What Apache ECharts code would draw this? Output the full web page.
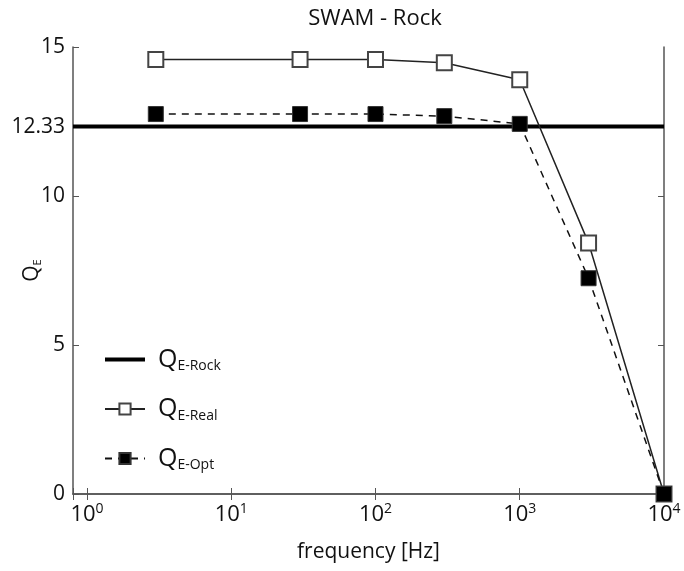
<!DOCTYPE html>
<html><head><meta charset="utf-8">
<script src="https://cdn.jsdelivr.net/npm/echarts@6/dist/echarts.min.js"></script>
<style>html,body{margin:0;padding:0;background:#fff}#c{width:684px;height:571px}</style>
</head><body><div id="c"></div>
<script>
const frequencies = [3, 30, 100, 300, 1000, 3000, 10000];
const qReal = [14.58, 14.58, 14.58, 14.47, 13.9, 8.42, 0];
const qOpt = [12.75, 12.75, 12.75, 12.68, 12.42, 7.24, 0];
const qRock = 12.33;
const rockRange = [0.8, 10000];
const yTicks = [0, 5, 10, 12.33, 15];
const xTicks = [1, 10, 100, 1000, 10000];

const FONT = '"Open Sans", "DejaVu Sans", sans-serif';
const chart = echarts.init(document.getElementById('c'));
const pair = (xs, ys) => xs.map((x, i) => [x, ys[i]]);
const supMap = {1:0,10:1,100:2,1000:3,10000:4};

chart.setOption({
  animation: false,
  title: {text: 'SWAM - Rock', left: 370, top: 3, textAlign: 'center',
    textStyle: {fontFamily: FONT, fontWeight: 'normal', fontSize: 22, color: '#111'}},
  grid: {left: 73, right: 20, top: 47, bottom: 77, containLabel: false, outerBoundsMode: 'none'},
  legend: {
    orient: 'vertical', left: 103, top: 347, padding: 0, itemGap: 23, itemWidth: 40, itemHeight: 14,
    data: [{name: 'rock', itemStyle: {opacity: 0}, lineStyle: {width: 4, color: '#000'}}, 'real', 'opt'],
    formatter: n => ({rock: '{q|Q}{s|E-Rock}', real: '{q|Q}{s|E-Real}', opt: '{q|Q}{s|E-Opt}'})[n],
    textStyle: {fontFamily: FONT, color: '#111', padding: [0, 0, 0, 8], rich: {
      q: {fontSize: 25, fontFamily: FONT, color: '#111'},
      s: {fontSize: 14, fontFamily: FONT, color: '#111', padding: [14, 0, 0, 0]}
    }}
  },
  xAxis: [{
    type: 'log', min: 0.8, max: 10000, logBase: 10,
    name: 'frequency [Hz]', nameLocation: 'middle', nameGap: 48,
    nameTextStyle: {fontFamily: FONT, fontSize: 21, color: '#111'},
    axisLine: {lineStyle: {color: '#555', width: 1.5}},
    axisTick: {inside: true, length: 6, lineStyle: {color: '#555'}},
    minorTick: {show: false}, splitLine: {show: false},
    axisLabel: {margin: 8, formatter: v => {
      const k = supMap[Math.round(v)];
      if (k === undefined || Math.abs(v - Math.round(v)) > 1e-6) return '';
      return '{b|10}{s|' + k + '}';
    }, rich: {
      b: {fontSize: 22, fontFamily: FONT, color: '#111'},
      s: {fontSize: 14, fontFamily: FONT, color: '#111', padding: [0, 0, 12, 0]}
    }}
  }, {
    type: 'log', min: 0.8, max: 10000, position: 'top',
    axisLine: {lineStyle: {color: '#555', width: 1.5}},
    axisTick: {inside: true, length: 6, lineStyle: {color: '#555'}},
    axisLabel: {show: false}, splitLine: {show: false}
  }],
  yAxis: [{
    type: 'value', min: 0, max: 15,
    name: '{q|Q}{s|E}', nameLocation: 'middle', nameGap: 30, nameRotate: 90, nameMoveOverlap: false,
    nameTextStyle: {rich: {
      q: {fontSize: 21, fontFamily: FONT, color: '#111'},
      s: {fontSize: 11, fontFamily: FONT, color: '#111', padding: [10, 0, 0, 0]}
    }},
    axisLine: {show: true, lineStyle: {color: '#555', width: 1.5}},
    axisTick: {show: true, inside: true, length: 6, customValues: yTicks, lineStyle: {color: '#555'}},
    axisLabel: {customValues: yTicks, fontFamily: FONT, fontSize: 21, color: '#111', margin: 8},
    splitLine: {show: false}
  }, {
    type: 'value', min: 0, max: 15, position: 'right',
    axisLine: {show: true, lineStyle: {color: '#555', width: 1.5}},
    axisTick: {show: true, inside: true, length: 6, customValues: [5, 10], lineStyle: {color: '#555'}},
    axisLabel: {show: false}, splitLine: {show: false}
  }],
  series: [{
    name: 'rock', type: 'line', data: rockRange.map(x => [x, qRock]),
    showSymbol: false, symbol: 'none', color: '#000',
    lineStyle: {color: '#000', width: 4}, z: 2
  }, {
    name: 'real', type: 'line', data: pair(frequencies, qReal),
    symbol: 'rect', symbolSize: 15, color: '#555',
    itemStyle: {color: '#fff', borderColor: '#444', borderWidth: 2},
    lineStyle: {color: '#222', width: 1.5}, z: 3
  }, {
    name: 'opt', type: 'line', data: pair(frequencies, qOpt),
    symbol: 'rect', symbolSize: 15, color: '#000',
    itemStyle: {color: '#000', borderColor: '#333', borderWidth: 1},
    lineStyle: {color: '#111', width: 1.5, type: [7, 6]}, z: 4
  }]
});
</script></body></html>
